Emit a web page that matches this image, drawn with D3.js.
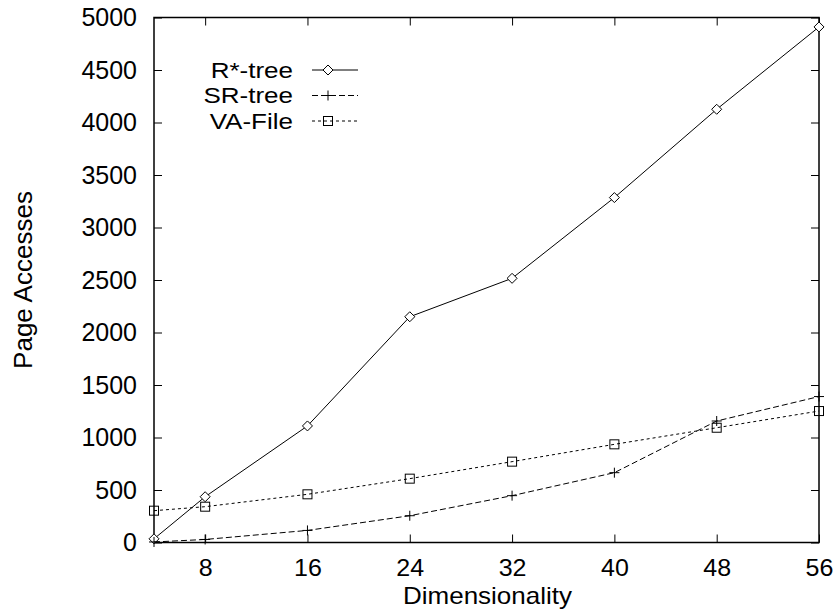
<!DOCTYPE html>
<html><head><meta charset="utf-8">
<script src="https://cdn.jsdelivr.net/npm/d3@7/dist/d3.min.js"></script>
<style>body{margin:0;background:#fff}svg{display:block}text{font-family:"Liberation Sans",Arial,sans-serif;fill:#000}</style>
</head><body><svg id="c" width="838" height="612"></svg>
<script>
const dims = [4, 8, 16, 24, 32, 40, 48, 56];
const rstar = [35, 436, 1110, 2150, 2516, 3285, 4126, 4910];
const srtree = [5, 29, 115, 255, 446, 665, 1157, 1390];
const vafile = [303, 341, 459, 608, 770, 935, 1093, 1252];
const xTicks = [8, 16, 24, 32, 40, 48, 56];
const yTicks = [0, 500, 1000, 1500, 2000, 2500, 3000, 3500, 4000, 4500, 5000];
const seriesNames = ["R*-tree", "SR-tree", "VA-File"];

const W = 838, H = 612;
const m = {l: 154, r: 19, t: 17.5, b: 69.5};
const svg = d3.select("#c");
const x = d3.scaleLinear().domain([4, 56]).range([m.l, W - m.r]);
const y = d3.scaleLinear().domain([0, 5000]).range([H - m.b, m.t]);
const FS = 25, TL = 8;

// shrink a text's height while keeping the width it has at a wider size
function fitWidth(sel, wideSize, size) {
  sel.each(function() {
    const t = d3.select(this);
    t.style("font-size", wideSize + "px");
    const w = this.getComputedTextLength();
    t.style("font-size", size + "px").attr("textLength", w).attr("lengthAdjust", "spacingAndGlyphs");
  });
}

const series = [
  {name: seriesNames[0], vals: rstar, dash: null, sym: "diamond"},
  {name: seriesNames[1], vals: srtree, dash: "6,3", sym: "plus"},
  {name: seriesNames[2], vals: vafile, dash: "3,3", sym: "square"}
];

// axes (ticks inward, mirrored)
const gB = svg.append("g").attr("transform", `translate(0,${H - m.b})`)
  .call(d3.axisBottom(x).tickValues(xTicks).tickSize(-TL).tickFormat(d3.format("d")));
const gT = svg.append("g").attr("transform", `translate(0,${m.t})`)
  .call(d3.axisTop(x).tickValues(xTicks).tickSize(-TL).tickFormat(""));
const gL = svg.append("g").attr("transform", `translate(${m.l},0)`)
  .call(d3.axisLeft(y).tickValues(yTicks).tickSize(-TL).tickPadding(17).tickFormat(d3.format("d")));
const gR = svg.append("g").attr("transform", `translate(${W - m.r},0)`)
  .call(d3.axisRight(y).tickValues(yTicks).tickSize(-TL).tickFormat(""));
[gB, gT, gL, gR].forEach(g => {
  g.select(".domain").remove();
  g.selectAll(".tick line").attr("stroke", "#000").attr("stroke-width", 1);
  g.selectAll(".tick text").style("font-size", FS + "px").attr("font-family", null);
});
gB.selectAll(".tick text").attr("y", 25.5).attr("dy", "0.35em");
fitWidth(gB.selectAll(".tick text"), 25, 24);
svg.append("rect").attr("x", m.l).attr("y", m.t)
  .attr("width", W - m.r - m.l).attr("height", H - m.b - m.t)
  .attr("fill", "none").attr("stroke", "#000").attr("stroke-width", 1.5);

// axis titles
const xt = svg.append("text").attr("x", 487.5).attr("y", 604).attr("text-anchor", "middle")
  .text("Dimensionality");
fitWidth(xt, 26, 24);
svg.append("text").attr("transform", "translate(32,280) rotate(-90)")
  .attr("text-anchor", "middle").style("font-size", "26px").text("Page Accesses");

function drawSym(g, sym, cx, cy) {
  if (sym === "diamond") {
    g.append("path").attr("d", `M${cx},${cy-5}L${cx+5},${cy}L${cx},${cy+5}L${cx-5},${cy}Z`)
      .attr("fill", "#fff").attr("stroke", "#000").attr("stroke-width", 1);
  } else if (sym === "plus") {
    g.append("path").attr("d", `M${cx-5},${cy}H${cx+5}M${cx},${cy-5}V${cy+5}`)
      .attr("stroke", "#000").attr("stroke-width", 1);
  } else {
    g.append("rect").attr("x", cx-4.5).attr("y", cy-4.5).attr("width", 9).attr("height", 9)
      .attr("fill", "none").attr("stroke", "#000").attr("stroke-width", 1);
  }
}

const line = d3.line().x(d => x(d[0])).y(d => y(d[1]));
series.forEach(s => {
  const pts = dims.map((d, i) => [d, s.vals[i]]);
  const g = svg.append("g");
  g.append("path").attr("d", line(pts)).attr("fill", "none").attr("stroke", "#000")
    .attr("stroke-width", 1).attr("stroke-dasharray", s.dash);
  pts.forEach(p => drawSym(g, s.sym, x(p[0]), y(p[1])));
});

// legend
series.forEach((s, i) => {
  const ly = 70 + i * 25.5;
  const g = svg.append("g");
  const t = g.append("text").attr("x", 293).attr("y", ly).attr("dy", "0.36em")
    .attr("text-anchor", "end").text(s.name);
  fitWidth(t, 26, 22);
  g.append("line").attr("x1", 312).attr("x2", 358).attr("y1", ly).attr("y2", ly)
    .attr("stroke", "#000").attr("stroke-width", 1).attr("stroke-dasharray", s.dash);
  drawSym(g, s.sym, 328, ly);
});
</script></body></html>
